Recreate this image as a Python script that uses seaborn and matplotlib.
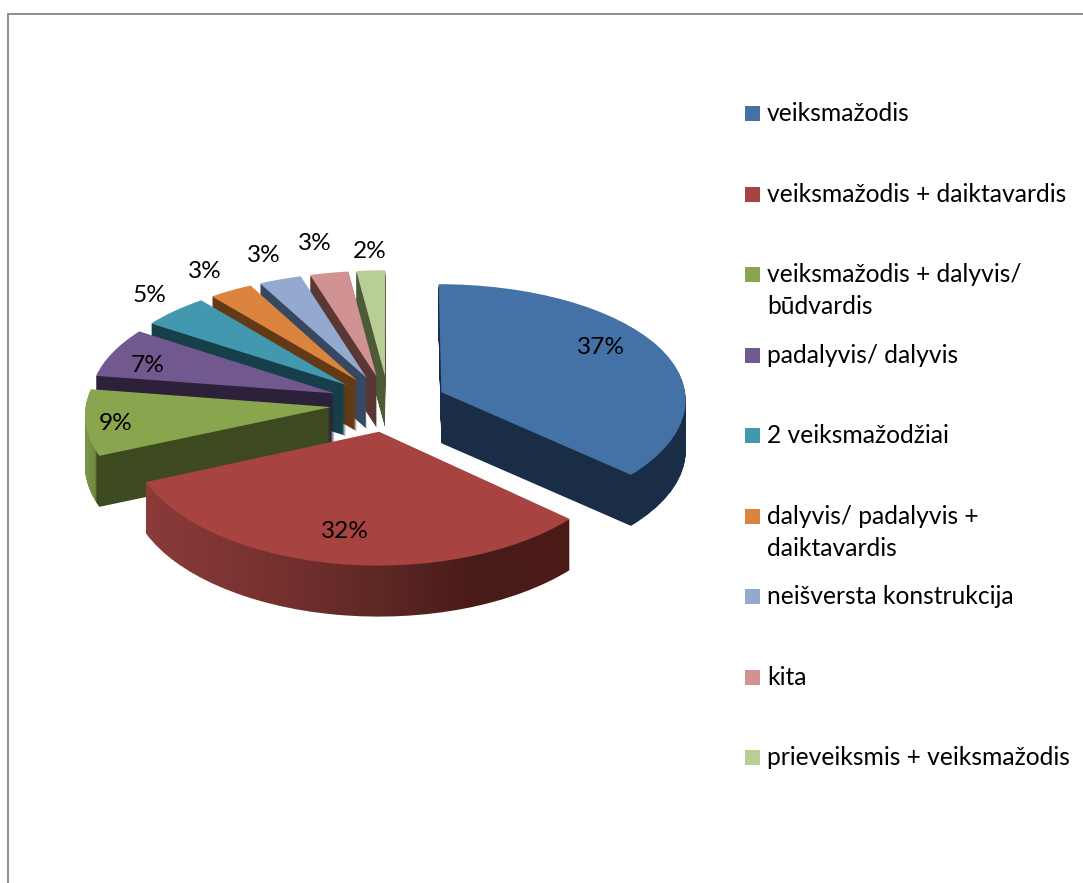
import numpy as np
import matplotlib
matplotlib.use('Agg')
import matplotlib.pyplot as plt
import seaborn as sns
from matplotlib.colors import LinearSegmentedColormap
from matplotlib.patches import PathPatch, Rectangle
from matplotlib.path import Path
from matplotlib.transforms import Affine2D, Transform

# chart data
categories = ['veiksmažodis', 'veiksmažodis + daiktavardis', 'veiksmažodis + dalyvis/\nbūdvardis',
              'padalyvis/ dalyvis', '2 veiksmažodžiai', 'dalyvis/ padalyvis +\ndaiktavardis',
              'neišversta konstrukcija', 'kita', 'prieveiksmis + veiksmažodis']
values = [36.6, 31.7, 8.9, 6.9, 4.8, 3.1, 3.0, 2.7, 2.0]
top_colors = ['#4472A6', '#A74442', '#89A54E', '#71588F', '#4198AF', '#DB843D', '#93A9CF', '#D19392', '#B9CD96']
side_colors = ['#1A2D47', '#471B18', '#3E4A20', '#2C2139', '#173F4A', '#643A16', '#374860', '#5A3635', '#4C5A36']
label_x = [601, 345, 116, 148, 150, 205, 264, 315, 370]
label_y = [348, 531, 423, 365, 296, 272, 255, 243, 251]
# back slices get painted first
paint_order = [8, 7, 6, 5, 4, 3, 2, 0, 1]
# shaded outer walls, (position along the wall, colour)
wall_shades = {
    1: [(0.0, '#8B3B39'), (0.25, '#7A3331'), (0.5, '#622A27'), (0.78, '#481B18'), (1.0, '#4C1C18')],
    2: [(0.0, '#7C9847'), (0.045, '#6F8A40'), (0.05, '#3E4A20'), (1.0, '#3E4A20')],
}

DEPTH = 51


class PieTilt(Transform):
    # flat pie coordinates to pixels, with a bit of perspective
    input_dims = 2
    output_dims = 2

    def transform_non_affine(self, values):
        values = np.asarray(values)
        kx = 1 + 0.055 * values[:, 1]
        ky = 1 + 0.08 * values[:, 1]
        return np.column_stack([388.6 + 245 * values[:, 0] / kx, 403.5 - 118.4 * values[:, 1] / ky])


sns.set_theme(style='white')
plt.rcParams['font.family'] = ['Lato', 'DejaVu Sans']

fig = plt.figure(figsize=(10.83, 8.83), dpi=100)
ax = fig.add_axes([0, 0, 1, 1])

palette = sns.color_palette(top_colors)
wedges, _ = ax.pie(values, explode=[0.237] * len(values), colors=palette, startangle=90, counterclock=False,
                   wedgeprops={'linewidth': 0})

tilt = PieTilt()
for rank, i in enumerate(paint_order):
    wedge = wedges[i]
    wedge.set_transform(tilt + ax.transData)
    wedge.set_zorder(rank * 2 + 1)

    # wall = the top face swept downwards
    flat = tilt.transform_path(wedge.get_path())
    wall = Path.make_compound_path(*[flat.transformed(Affine2D().translate(0, d)) for d in range(1, DEPTH + 1)])

    if i in wall_shades:
        x0, x1 = wall.vertices[:, 0].min(), wall.vertices[:, 0].max()
        cmap = LinearSegmentedColormap.from_list('wall%d' % i, wall_shades[i])
        im = ax.imshow(np.linspace(0, 1, 256)[None, :], cmap=cmap, aspect='auto', interpolation='bilinear',
                       extent=(x0, x1, 700, 200), zorder=rank * 2)
        im.set_clip_path(wall, transform=ax.transData)
    else:
        ax.add_patch(PathPatch(wall, facecolor=side_colors[i], edgecolor='none', zorder=rank * 2))

for i, v in enumerate(values):
    ax.text(label_x[i], label_y[i], '%.0f%%' % v, fontsize=17.6, color='black', ha='center', va='center', zorder=50)

# legend
for i, name in enumerate(categories):
    y = 113.5 + 80.55 * i
    ax.add_patch(Rectangle((745, y - 7.5), 15, 15, facecolor=top_colors[i], edgecolor='none', zorder=50))
    for n, line in enumerate(name.split('\n')):
        ax.text(767, y + 7.5 + 32 * n, line, fontsize=17.75, color='black', ha='left', va='baseline', zorder=50)

# chart frame, only partly inside the picture
ax.plot([8, 8, 1083], [883, 13.7, 13.7], color='#868686', linewidth=1.3, solid_joinstyle='miter', zorder=60)

ax.set_xlim(0, 1083)
ax.set_ylim(883, 0)
ax.set_aspect('auto')
ax.axis('off')

fig.savefig('out.png', dpi=100)
plt.close(fig)
